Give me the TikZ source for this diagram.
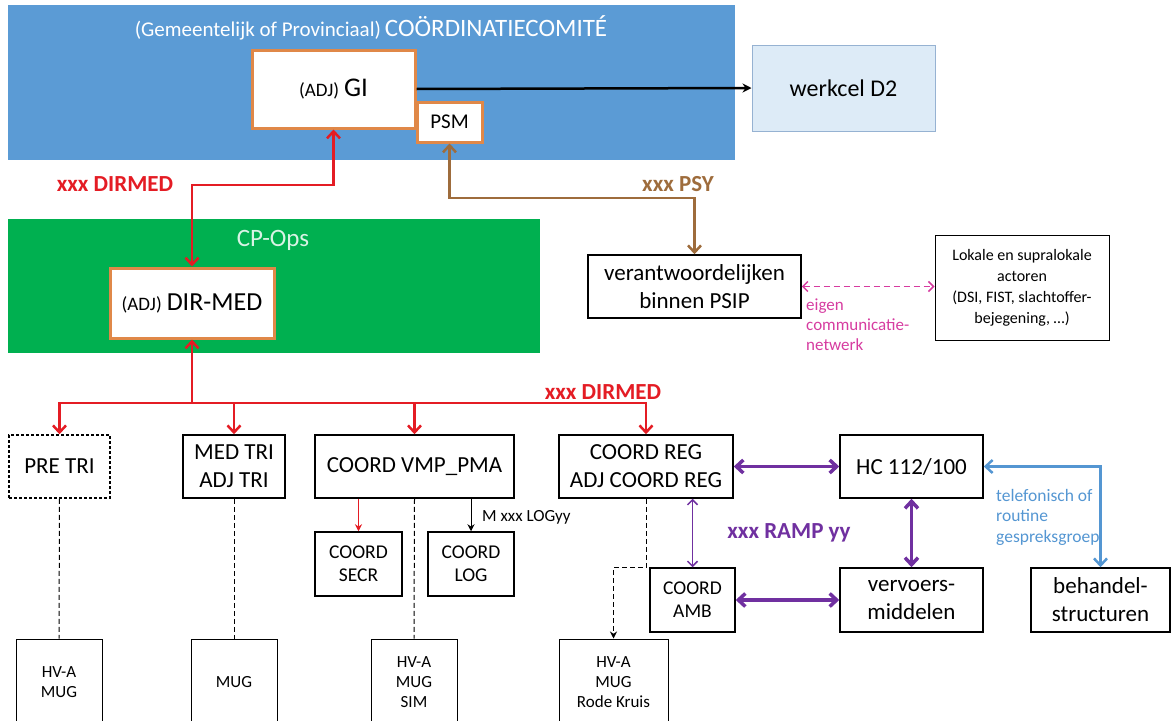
\documentclass[tikz,border=0pt]{standalone}
\usepackage{fontspec}
\setmainfont{Carlito}
\usetikzlibrary{arrows.meta}

\definecolor{comiteblue}{RGB}{91,155,213}
\definecolor{opsgreen}{RGB}{0,176,80}
\definecolor{giorange}{RGB}{224,136,72}
\definecolor{d2fill}{RGB}{221,235,247}
\definecolor{d2line}{RGB}{150,178,210}
\definecolor{dirred}{RGB}{228,28,36}
\definecolor{psybrown}{RGB}{158,108,60}
\definecolor{rampviolet}{RGB}{112,48,160}
\definecolor{netpink}{RGB}{214,60,160}
\definecolor{telblue}{RGB}{84,150,210}

\newcommand{\fsz}[2]{\fontsize{#1}{#2}\selectfont}

\begin{document}
\begin{tikzpicture}[x=1pt, y=-1pt,
  >={Straight Barb[length=7pt,width=13pt]},
  box/.style={draw, line width=1.5pt, fill=white, align=center, inner sep=1pt, font=\fsz{23}{28}},
  midbox/.style={box, font=\fsz{19.5}{23}},
  smallbox/.style={draw, line width=1pt, fill=white, align=center, inner sep=1pt, font=\fsz{17}{20}},
  gibox/.style={draw=giorange, line width=3pt, fill=white, align=center, inner sep=1pt},
  dirline/.style={dirred, line width=2.5pt},
  psyline/.style={psybrown, line width=2.5pt},
  rampthick/.style={rampviolet, line width=3.5pt},
  rampthin/.style={rampviolet, line width=1.5pt, >={Straight Barb[length=5pt,width=10pt]}},
  telline/.style={telblue, line width=2.5pt},
  netline/.style={netpink, line width=1.5pt, dash pattern=on 6pt off 4pt, >={Straight Barb[length=5pt,width=10pt]}},
  tieline/.style={line width=1pt, dash pattern=on 5pt off 3pt},
  smalltip/.style={-{Stealth[length=7pt,width=7pt]}},
  biglabel/.style={font=\bfseries\fsz{23}{26}}]

% Frame
\path[use as bounding box] (0,0) rectangle (1172,720);
\clip (0,0) rectangle (1172,720);

% Coordination committee
\node[fill=comiteblue, minimum width=727pt, minimum height=155pt, inner sep=0pt] (comite) at (371,82.5) {};
\node[text=white] (comitetitle) at (371,28) {{\fsz{21}{24}(Gemeentelijk of Provinciaal)}\hspace{4pt}{\fsz{25}{28}COÖRDINATIECOMITÉ}};
\node[gibox, minimum width=163pt, minimum height=78pt] (gi) at (333.5,89) {{\fsz{19}{22}(ADJ)}\hspace{5pt}{\fsz{27}{30}GI}};
\node[gibox, font=\fsz{21}{24}, minimum width=65pt, minimum height=40pt] (psm) at (449.5,122) {PSM};
\node[draw=d2line, fill=d2fill, line width=1pt, minimum width=183pt, minimum height=86pt, font=\fsz{24}{28}] (werkcel) at (843.5,88) {werkcel D2};
\draw[line width=2.5pt, -{Stealth[length=9pt,width=9pt]}] (gi.east) -- (werkcel.west);

% CP-Ops
\node[fill=opsgreen, minimum width=532pt, minimum height=134pt, inner sep=0pt] (cpops) at (274,286) {};
\node[text=white!85!opsgreen, font=\fsz{25}{28}] (cpopstitle) at (273,240) {CP-Ops};
\node[gibox, minimum width=164pt, minimum height=70pt] (dirmed) at (192,303) {{\fsz{19}{22}(ADJ)}\hspace{5pt}{\fsz{26}{30}DIR-MED}};

% DIRMED link up
\coordinate (dirbend) at (192,185);
\draw[dirline, <->] (dirmed.north) -- (dirbend) -| (gi.south);
\node[biglabel, text=dirred] (dirlbl) at (115,184) {xxx DIRMED};

% Psychosocial
\node[box, minimum width=213pt, minimum height=63pt] (psip) at (694.5,286.5) {verantwoordelijken\\binnen PSIP};
\node[smallbox, font=\fsz{16}{21}, minimum width=174pt, minimum height=105pt] (lokale) at (1022,287.5) {Lokale en supralokale\\actoren\\(DSI, FIST, slachtoffer-\\bejegening, …)};
\coordinate (psybend) at (600,198);
\draw[psyline, <->] (psm.south) |- (psybend) -| (psip.north);
\node[biglabel, text=psybrown] (psylbl) at (678,184) {xxx PSY};
\draw[netline, <->] (psip.east) -- (psip.east -| lokale.west);
\node[anchor=west, align=left, inner sep=0pt, text=netpink, font=\fsz{17}{20}] (netlbl) at (806,325) {eigen\\communicatie-\\netwerk};

% First row under DIR-MED
\node[box, dash pattern=on 3pt off 2pt, minimum width=101pt, minimum height=63pt] (pretri) at (59.5,466.5) {PRE TRI};
\node[box, minimum width=102pt, minimum height=63pt] (medtri) at (234,466.5) {MED TRI\\ADJ TRI};
\node[box, minimum width=199pt, minimum height=63pt] (vmp) at (414.5,466.5) {COORD VMP\_PMA};
\node[box, minimum width=174pt, minimum height=63pt] (coordreg) at (646,466.5) {COORD REG\\ADJ COORD REG};
\node[box, minimum width=143pt, minimum height=63pt] (hc) at (911.5,466.5) {HC 112/100};

% DIRMED bus
\coordinate (bus) at (192,403);
\draw[dirline, <-] (dirmed.south) -- (bus);
\foreach \n in {pretri,medtri,vmp,coordreg}
  \draw[dirline, ->] (bus) -| (\n.north);
\node[biglabel, text=dirred] (buslbl) at (603,392) {xxx DIRMED};

% Second row
\node[midbox, minimum width=87pt, minimum height=64pt] (secr) at (358.5,564) {COORD\\SECR};
\node[midbox, minimum width=86pt, minimum height=64pt] (log) at (471,564) {COORD\\LOG};
\node[midbox, minimum width=85pt, minimum height=64pt] (amb) at (692.5,600) {COORD\\AMB};
\node[box, minimum width=143pt, minimum height=64pt] (vervoer) at (911.5,600) {vervoers-\\middelen};
\node[box, minimum width=139pt, minimum height=64pt] (behandel) at (1100.5,600) {behandel-\\structuren};
\draw[dirred, line width=1pt, smalltip] (secr.north |- vmp.south) -- (secr.north);
\draw[line width=1pt, smalltip] (log.north |- vmp.south) -- (log.north);
\node[anchor=west, inner sep=0pt, font=\fsz{17}{20}] (loglbl) at (482,517) {M xxx LOGyy};

% RAMP
\draw[rampthick, <->] (coordreg.east) -- (hc.west);
\draw[rampthick, <->] (hc.south) -- (vervoer.north);
\draw[rampthick, <->] (amb.east) -- (vervoer.west);
\draw[rampthin, <->] (amb.north |- coordreg.south) -- (amb.north);
\node[biglabel, text=rampviolet] (ramplbl) at (789,533) {xxx RAMP yy};

% Hospitals
\draw[telline, <->] (hc.east) -| (behandel.north);
\node[anchor=west, align=left, inner sep=0pt, text=telblue, font=\fsz{17.5}{20.5}] (tellbl) at (996,517) {telefonisch of\\routine\\gespreksgroep};

% Bottom row
\node[smallbox, minimum width=86pt, minimum height=86pt] (hvamug) at (59,682) {HV-A\\MUG};
\node[smallbox, minimum width=86pt, minimum height=86pt] (mug) at (234,682) {MUG};
\node[smallbox, minimum width=86pt, minimum height=86pt] (sim) at (414,682) {HV-A\\MUG\\SIM};
\node[smallbox, minimum width=109pt, minimum height=86pt] (rode) at (613.5,682) {HV-A\\MUG\\Rode Kruis};
\draw[tieline] (pretri.south) -- (hvamug.north);
\draw[tieline] (medtri.south) -- (mug.north);
\draw[tieline] (vmp.south) -- (sim.north);
\draw[tieline, smalltip] (coordreg.south) |- (rode.north |- amb.north) -- (rode.north);

\end{tikzpicture}
\end{document}
